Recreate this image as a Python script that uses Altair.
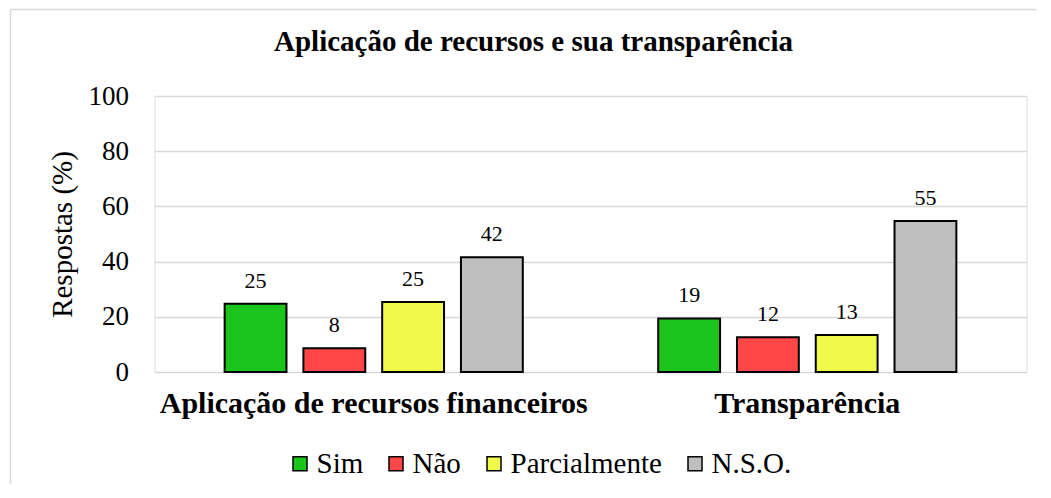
import altair as alt
import pandas as pd

categories = ["Aplicação de recursos financeiros", "Transparência"]
responses = ["Sim", "Não", "Parcialmente", "N.S.O."]
values_financeiros = [24.7, 8.6, 25.4, 41.6]
values_transparencia = [19.4, 12.6, 13.4, 54.7]
labels_financeiros = ["25", "8", "25", "42"]
labels_transparencia = ["19", "12", "13", "55"]
colors = ["#1AC41A", "#FF4747", "#F0FA4B", "#BFBFBF"]
title_text = "Aplicação de recursos e sua transparência"

rows = []
for cat, vals, labs in [(categories[0], values_financeiros, labels_financeiros),
                        (categories[1], values_transparencia, labels_transparencia)]:
    for r, v, l in zip(responses, vals, labs):
        rows.append({"categoria": cat, "resposta": r, "valor": v, "rotulo": l})
df = pd.DataFrame(rows)

FONT = "Liberation Serif"

x_enc = alt.X("categoria:N", sort=categories,
              scale=alt.Scale(paddingInner=0.276, paddingOuter=0.1436),
              axis=alt.Axis(title=None, labelAngle=0, labelFont=FONT, labelFontSize=30,
                            labelFontWeight="bold", labelColor="black", labelPadding=16,
                            labelLimit=0, domain=False, ticks=False))
xoff = alt.XOffset("resposta:N", sort=responses,
                   scale=alt.Scale(paddingInner=0.215, paddingOuter=0.1))
y_enc = alt.Y("valor:Q", scale=alt.Scale(domain=[0, 100], nice=False),
              axis=alt.Axis(values=[0, 20, 40, 60, 80, 100], grid=True, gridColor="#D9D9D9",
                            gridWidth=1.5, domain=False, ticks=False, labelFont=FONT,
                            labelFontSize=27, labelColor="black", labelPadding=26,
                            title="Respostas (%)", titleFont=FONT, titleFontSize=29,
                            titleFontWeight="normal", titleColor="black", titlePadding=11))

base = alt.Chart(df).encode(x=x_enc, xOffset=xoff)

bars = base.mark_bar(stroke="black", strokeWidth=2).encode(
    y=y_enc,
    color=alt.Color("resposta:N", sort=responses,
                    scale=alt.Scale(domain=responses, range=colors),
                    legend=alt.Legend(title=None, orient="none", legendX=131, legendY=353,
                                      direction="horizontal", symbolType="square",
                                      symbolSize=196, symbolStrokeColor="black",
                                      symbolStrokeWidth=1.5, labelFont=FONT,
                                      labelFontSize=29, labelColor="black",
                                      labelOffset=2, columnPadding=18, labelLimit=0)),
)

text = base.mark_text(baseline="alphabetic", dy=-16, font=FONT, fontSize=22,
                      color="black").encode(y="valor:Q", text="rotulo:N")

one = alt.Data(values=[{}])
left_border = alt.Chart(one).mark_rule(color="#D9D9D9", strokeWidth=1.5).encode(
    x=alt.value(-144), y=alt.value(-86.5), y2=alt.value(388))
top_border = alt.Chart(one).mark_rule(color="#D9D9D9", strokeWidth=1.5).encode(
    x=alt.value(-144), x2=alt.value(882), y=alt.value(-86.5))
title = alt.Chart(one).mark_text(font=FONT, fontSize=29, fontWeight="bold", color="black",
                                 align="center", baseline="alphabetic").encode(
    x=alt.value(379), y=alt.value(-45), text=alt.value(title_text))

chart = alt.layer(left_border, top_border, title, bars, text).properties(
    width=872, height=276, padding={"left": 1.5, "top": 0, "right": 0, "bottom": 0},
).configure_view(stroke=None).configure(font=FONT).configure_legend(
    labelFont=FONT).configure_text(font=FONT)

chart.save("out.html", embed_options={"renderer": "svg", "actions": False})
